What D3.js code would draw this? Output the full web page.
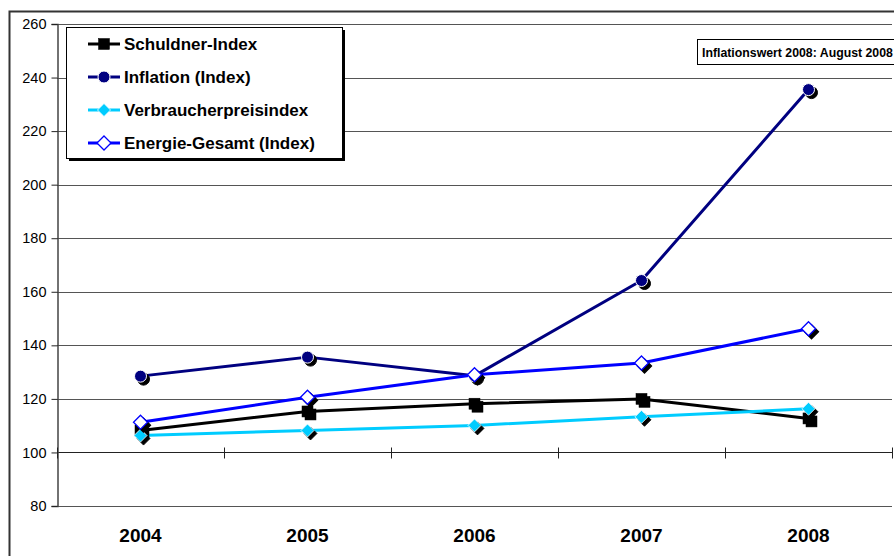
<!DOCTYPE html>
<html>
<head>
<meta charset="utf-8">
<script src="https://cdn.jsdelivr.net/npm/d3@7"></script>
<style>
  body { margin: 0; background: #fff; }
  text { font-family: Arial, 'Liberation Sans', sans-serif; }
</style>
</head>
<body>
<div id="chart"></div>
<script>
const years = ['2004', '2005', '2006', '2007', '2008']
const yTicks = [80, 100, 120, 140, 160, 180, 200, 220, 240, 260]
const schuldner = [108.2, 115.3, 118.2, 120.0, 112.7]
const inflation = [128.5, 135.6, 128.6, 164.2, 235.5]
const vpi = [106.3, 108.2, 110.1, 113.3, 116.3]
const energie = [111.3, 120.6, 129.0, 133.4, 146.2]
const seriesNames = ['Schuldner-Index', 'Inflation (Index)', 'Verbraucherpreisindex', 'Energie-Gesamt (Index)']
const note = 'Inflationswert 2008: August 2008'

const width = 894
const height = 556
const plot = { left: 57, right: 892, top: 24, bottom: 506 }

const series = [
  { name: seriesNames[0], values: schuldner, color: '#000000', marker: 'square' },
  { name: seriesNames[1], values: inflation, color: '#000080', marker: 'circle' },
  { name: seriesNames[2], values: vpi, color: '#00ccff', marker: 'diamondSmall' },
  { name: seriesNames[3], values: energie, color: '#0000ff', marker: 'diamondOpen' },
]

const svg = d3.select('#chart').append('svg')
  .attr('width', width).attr('height', height)

// outer chart border
svg.append('rect')
  .attr('x', 9.5).attr('y', 11.5)
  .attr('width', width).attr('height', height)
  .attr('fill', 'none').attr('stroke', '#333').attr('stroke-width', 2)

const x = d3.scaleBand().domain(years).range([plot.left, plot.right])
const y = d3.scaleLinear().domain([80, 260]).range([plot.bottom, plot.top])

// gridlines
svg.append('g')
  .selectAll('line')
  .data(yTicks)
  .join('line')
  .attr('x1', plot.left).attr('x2', plot.right)
  .attr('y1', (d) => Math.round(y(d)) + 0.5)
  .attr('y2', (d) => Math.round(y(d)) + 0.5)
  .attr('stroke', (d) => (d === 100 ? '#222' : '#555'))
  .attr('stroke-width', (d) => (d === 260 ? 1.2 : 1))

// y axis
const yAxis = d3.axisLeft(y).tickValues(yTicks).tickSize(6).tickPadding(5)
const gy = svg.append('g')
  .attr('transform', `translate(${plot.left + 0.5},0)`)
  .call(yAxis)
gy.select('.domain').attr('stroke', '#444').attr('stroke-width', 1.5)
gy.selectAll('.tick line').attr('stroke', '#222')
gy.selectAll('.tick text')
  .attr('font-size', 14.5).attr('fill', '#000')
  .style('font-family', "Arial, 'Liberation Sans', sans-serif")

// x axis crossing at 100
const y100 = Math.round(y(100)) + 0.5
const boundaries = d3.range(years.length + 1).map((i) => plot.left + i * x.bandwidth())
svg.append('g')
  .selectAll('line')
  .data(boundaries)
  .join('line')
  .attr('x1', (d) => Math.round(d) + 0.5).attr('x2', (d) => Math.round(d) + 0.5)
  .attr('y1', y100 - 5).attr('y2', y100 + 6)
  .attr('stroke', '#222')

svg.append('g')
  .selectAll('text')
  .data(years)
  .join('text')
  .attr('x', (d) => x(d) + x.bandwidth() / 2)
  .attr('y', 542)
  .attr('text-anchor', 'middle')
  .attr('font-size', 19).attr('font-weight', 'bold')
  .text((d) => d)

// lines
const cx = (i) => x(years[i]) + x.bandwidth() / 2
const line = d3.line().x((d, i) => cx(i)).y((d) => y(d))

svg.append('g')
  .selectAll('path')
  .data(series)
  .join('path')
  .attr('d', (d) => line(d.values))
  .attr('fill', 'none')
  .attr('stroke', (d) => d.color)
  .attr('stroke-width', 3)
  .attr('stroke-linejoin', 'round')

function drawMarker(g, type, color, px, py, shadow) {
  const fill = shadow ? '#000' : (type === 'diamondOpen' ? '#fff' : color)
  const stroke = shadow ? '#000' : (type === 'diamondOpen' ? '#0000ff' : '#fff')
  if (type === 'square') {
    g.append('rect').attr('x', px - 5.5).attr('y', py - 5.5).attr('width', 11).attr('height', 11)
      .attr('fill', fill).attr('stroke', '#000').attr('stroke-width', 0.5)
  } else if (type === 'circle') {
    g.append('circle').attr('cx', px).attr('cy', py).attr('r', 6)
      .attr('fill', fill).attr('stroke', stroke).attr('stroke-width', 1)
  } else if (type === 'diamondSmall') {
    const s = 6.5
    g.append('path').attr('d', `M${px},${py - s}L${px + s},${py}L${px},${py + s}L${px - s},${py}Z`)
      .attr('fill', fill).attr('stroke', stroke).attr('stroke-width', 0.8)
  } else {
    const s = 7
    g.append('path').attr('d', `M${px},${py - s}L${px + s},${py}L${px},${py + s}L${px - s},${py}Z`)
      .attr('fill', fill).attr('stroke', stroke).attr('stroke-width', 1.3)
  }
}

const markers = svg.append('g')
series.forEach((s) => {
  s.values.forEach((v, i) => {
    drawMarker(markers, s.marker, s.color, cx(i) + 3, y(v) + 3, true)
  })
  s.values.forEach((v, i) => {
    drawMarker(markers, s.marker, s.color, cx(i), y(v), false)
  })
})

// legend
const legend = svg.append('g')
legend.append('rect').attr('x', 69).attr('y', 30).attr('width', 276).attr('height', 131).attr('fill', '#000')
legend.append('rect').attr('x', 66.5).attr('y', 27.5).attr('width', 276).attr('height', 131)
  .attr('fill', '#fff').attr('stroke', '#000').attr('stroke-width', 1)

series.forEach((s, i) => {
  const ly = 44 + i * 33
  legend.append('line').attr('x1', 88).attr('x2', 120).attr('y1', ly).attr('y2', ly)
    .attr('stroke', s.color).attr('stroke-width', 3)
  drawMarker(legend, s.marker, s.color, 104, ly, false)
  legend.append('text').attr('x', 124).attr('y', ly + 6)
    .attr('font-size', 17).attr('font-weight', 'bold')
    .text(s.name)
})

// note box
svg.append('rect').attr('x', 697.5).attr('y', 39.5).attr('width', 210).attr('height', 25)
  .attr('fill', '#fff').attr('stroke', '#000').attr('stroke-width', 1)
svg.append('text').attr('x', 702).attr('y', 56.5)
  .attr('font-size', 12.3).attr('font-weight', 'bold')
  .text(note)
</script>
</body>
</html>
